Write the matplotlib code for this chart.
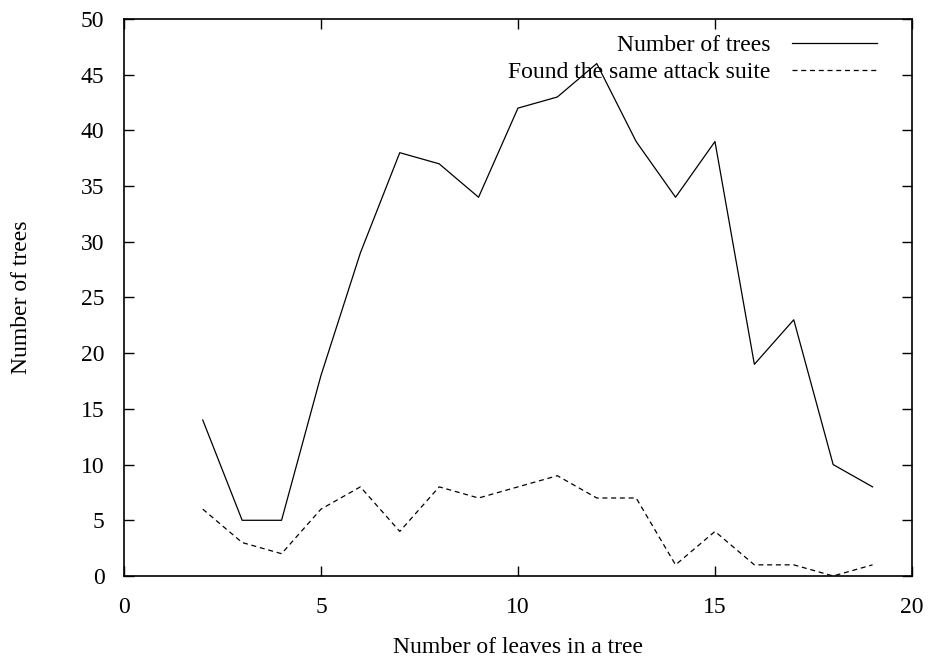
import matplotlib
matplotlib.use('Agg')
import matplotlib.pyplot as plt

leaves = [2, 3, 4, 5, 6, 7, 8, 9, 10, 11, 12, 13, 14, 15, 16, 17, 18, 19]
num_trees = [14, 5, 5, 18, 29, 38, 37, 34, 42, 43, 46, 39, 34, 39, 19, 23, 10, 8]
same_suite = [6, 3, 2, 6, 8, 4, 8, 7, 8, 9, 7, 7, 1, 4, 1, 1, 0, 1]

plt.rcParams['font.family'] = ['Liberation Serif', 'DejaVu Serif']
plt.rcParams['font.size'] = 17

fig = plt.figure(figsize=(9.3, 6.6), dpi=100)
ax = fig.add_axes([0.1333, 0.1273, 0.8473, 0.8439])

ax.plot(leaves, num_trees, color='black', lw=0.9, label='Number of trees')
ax.plot(leaves, same_suite, color='black', lw=0.9, ls=(0, (4, 3)),
        label='Found the same attack suite')

ax.set_xlim(0, 20)
ax.set_ylim(0, 50)
ax.set_xticks([0, 5, 10, 15, 20])
ax.set_yticks(range(0, 51, 5))
ax.tick_params(direction='in', top=True, right=True, length=7, width=1)
ax.tick_params(axis='x', pad=15)
ax.tick_params(axis='y', pad=14)
for s in ax.spines.values():
    s.set_linewidth(1.2)

ax.set_xlabel('Number of leaves in a tree', labelpad=14)
ax.set_ylabel('Number of trees', labelpad=35)

ax.legend(loc='upper right', bbox_to_anchor=(0.975, 1.0), frameon=False,
          markerfirst=False, handlelength=3.6, handletextpad=0.9,
          borderaxespad=0.35, labelspacing=0.25, borderpad=0.3)

fig.savefig('out.png', dpi=100)
